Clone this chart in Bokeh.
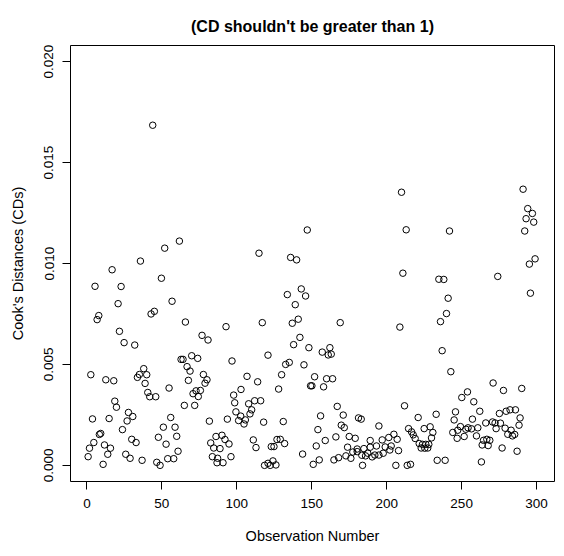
from bokeh.plotting import figure
from bokeh.models import Range1d, FixedTicker, NumeralTickFormatter
from bokeh.embed import file_html
from bokeh.resources import INLINE

# Observation numbers and Cook's distances (in units of 1e-3)
obs = [43.9, 61.7, 51.9, 35.7, 16.8, 49.7, 5.4, 22.8,
       20.8, 7.9, 6.8, 42.8, 45, 56.8, 65.7, 92.8, 21.7, 24.8, 31.9, 76.8, 80.8, 62.8, 64.1, 69.9, 73.9, 96.8,
       37.9, 39.9, 35, 33.7, 66.8, 68.8, 2.6, 12.6, 17.9, 38.8, 54.8, 67.7, 77.7, 80.1, 78.8, 40.6, 41.9, 45.9,
       72.8, 70.8, 75.7, 74.3, 65, 71.9, 97.9, 98.6, 99.4, 18.6, 19.7, 3.7, 14.8, 27.7, 30.6, 26.8, 55.9, 51,
       58.8, 59.9, 47.7, 52.8, 60.8, 53.9, 57.9, 23.7, 9.2, 8.3, 4.6, 1.7, 0.8, 11.7, 15.7, 13.9, 10.8, 29.9,
       32.8, 25.9, 28.8, 36.8, 46.6, 48.8, 81.7, 93.7, 86.1, 90.1, 92.1, 82.6, 94.8, 84.6, 88.8, 83.7, 87.2,
       96.1, 86.8, 90.8,
       147, 114.8, 135.9, 139.9, 143,
       133.7, 145.9, 139, 117, 137, 141, 169, 142.1, 137.9, 148.1, 162.1, 157, 161, 163, 120.8, 132.6, 135,
       144.8, 129.9, 106.8, 113.9, 151.9, 159.9, 163.9, 149.2, 150.1, 157.9, 127.9, 102.8, 111.9, 115.9, 107.9,
       109.9, 108.8, 102.6, 101.2, 105.7, 104.8, 117.9, 131, 167, 155.9, 171, 181.2, 183, 169.7, 171.7, 154.1,
       194.8, 111, 112.8, 126.8, 129, 131.9, 123, 124.8, 159, 166.1, 175, 179, 189, 197, 153, 143.9, 173.9,
       180.3, 184.8, 189, 193.2, 199, 172.8, 176.1, 177.4, 180.3, 183.4, 185.9, 187.4, 190.3, 192.1, 194.8,
       197.7, 164.8, 167.9, 155, 151, 183.9, 118.5, 120.8, 122.3, 124.1, 126.1,
       209.9, 291, 294.1, 297.2, 293, 298.1, 213, 241.9, 292.1, 299, 295.2, 210.8, 234.8, 238.1, 274.1,
       295.9, 241, 239.9, 235.9, 208.8, 237, 242.8, 271, 277.9, 290.1, 253.9, 250.1, 258.1, 211.9, 245.9, 262.1,
       275.2, 279.7, 282.3, 285.9, 289, 221, 233, 245, 257.2, 266.1, 270.6, 272.3, 275.9, 288.3, 225, 229,
       214.6, 216.6, 217.7, 219, 230.8, 229.9, 221.7, 223.9, 226.1, 228.1, 223, 225.4, 227.4, 244.1, 247,
       247.4, 249.2, 251.7, 252.8, 254.3, 256.6, 259.9, 260.8, 264.6, 266.8, 268.8, 263.7, 267.7, 273, 279,
       280.8, 283, 283.9, 285.4, 277, 287, 201.4, 204.8, 207, 203, 207.9, 202.1, 206.1, 213.7, 215.9, 233.7,
       239, 263.2]

cd_milli = [16.85, 11.11, 10.76, 10.12, 9.69, 9.27, 8.87, 8.86,
            8.01, 7.42, 7.22, 7.50, 7.63, 8.13, 7.10, 6.87, 6.64, 6.08, 5.96, 6.44, 6.21, 5.25, 5.25, 5.43, 5.30, 5.17,
            4.79, 4.49, 4.50, 4.36, 4.89, 4.67, 4.49, 4.24, 4.19, 4.06, 3.83, 4.21, 4.50, 4.24, 4.07, 3.61, 3.40, 3.40,
            3.69, 3.55, 3.71, 3.41, 2.97, 2.97, 3.48, 3.10, 2.65, 3.18, 2.88, 2.30, 2.32, 2.62, 2.42, 2.20, 2.37, 1.89,
            1.89, 1.44, 1.39, 1.05, 0.70, 0.33, 0.33, 1.77, 1.58, 1.53, 1.13, 0.85, 0.43, 1.01, 0.85, 0.55, 0.05, 1.29,
            1.13, 0.55, 0.35, 0.25, 0.15, 0.00, 2.19, 2.29, 1.43, 1.49, 1.28, 1.11, 1.06, 0.86, 0.83, 0.43, 0.35,
            0.43, 0.13, 0.13,
            11.66, 10.51, 10.30, 10.18, 8.74,
            8.46, 8.39, 7.96, 7.07, 7.04, 7.24, 7.07, 6.34, 5.98, 5.83, 5.83, 5.61, 5.47, 5.51, 5.46, 5.00, 5.10,
            4.98, 4.49, 4.41, 4.14, 4.39, 4.29, 4.29, 3.94, 3.94, 3.89, 3.78, 3.76, 3.20, 3.20, 3.05,
            2.75, 2.55, 2.44, 2.22, 2.25, 2.05, 2.14, 2.17, 2.92, 2.45, 2.49, 2.35, 2.29, 1.99, 1.87, 1.77,
            1.95, 1.26, 0.88, 1.28, 1.29, 1.08, 0.93, 0.93, 1.23, 1.41, 1.43, 1.34, 1.23, 1.26, 0.96, 0.56, 0.90,
            0.81, 0.83, 0.90, 0.96, 0.91, 0.47, 0.35, 0.66, 0.68, 0.50, 0.47, 0.60, 0.42, 0.51, 0.51,
            0.60, 0.27, 0.38, 0.27, 0.05, 0.00, 0.00, 0.10, 0.00, 0.22, 0.02,
            13.53, 13.68, 12.72, 12.48, 12.22, 12.05, 11.67, 11.61, 11.61, 10.23, 9.97, 9.52, 9.22, 9.21, 9.36,
            8.53, 8.28, 7.52, 7.12, 6.85, 5.68, 4.64, 4.08, 3.71, 3.81, 3.64, 3.36, 3.15, 2.95, 2.65, 2.68,
            2.57, 2.68, 2.75, 2.75, 2.35, 2.37, 2.53, 2.25, 2.29, 2.10, 2.15, 2.10, 2.09, 1.99, 1.82, 1.91,
            1.82, 1.66, 1.51, 1.33, 1.63, 1.36, 1.08, 1.04, 1.04, 1.04, 0.86, 0.85, 0.86, 1.63, 1.34,
            1.74, 1.92, 1.43, 1.79, 1.86, 1.81, 1.46, 1.86, 1.24, 1.29, 1.24, 1.01, 0.98, 1.82, 1.84,
            1.54, 1.74, 1.46, 1.53, 0.86, 0.70, 1.38, 1.54, 1.29, 0.96, 0.73, 0.76, 0.00, 0.00, 0.05, 0.25,
            0.25, 0.17]

cd = [v / 1000.0 for v in cd_milli]

x_ticks = [0, 50, 100, 150, 200, 250, 300]
y_ticks = [0.0, 0.005, 0.010, 0.015, 0.020]

FONT = "Liberation Sans"

p = figure(width=556, height=548, output_backend="svg", toolbar_location=None,
           x_range=Range1d(-10.96, 311.96), y_range=Range1d(-0.0008, 0.0208),
           min_border_left=70, min_border_right=2, min_border_top=45, min_border_bottom=67,
           background_fill_color="white", border_fill_color="white")

p.title.text = "(CD shouldn't be greater than 1)"
p.title.align = "center"
p.title.text_font = FONT
p.title.text_font_size = "16px"
p.title.text_font_style = "bold"
p.title.text_color = "black"
p.title.standoff = 22

p.scatter(obs, cd, marker="circle", size=6.5, fill_color=None, line_color="black", line_width=1)

p.grid.visible = False
p.outline_line_color = "black"
p.outline_line_width = 1
p.outline_line_alpha = 1.0

for ax in (p.xaxis[0], p.yaxis[0]):
    ax.axis_line_color = None
    ax.major_tick_line_color = "black"
    ax.major_tick_in = 0
    ax.major_tick_out = 8
    ax.minor_tick_line_color = None
    ax.major_label_text_font = FONT
    ax.major_label_text_font_size = "13.5px"
    ax.major_label_text_color = "black"
    ax.axis_label_text_font = FONT
    ax.axis_label_text_font_size = "14.5px"
    ax.axis_label_text_font_style = "normal"
    ax.axis_label_text_color = "black"

p.xaxis.ticker = FixedTicker(ticks=x_ticks)
p.yaxis.ticker = FixedTicker(ticks=y_ticks)
p.yaxis.formatter = NumeralTickFormatter(format="0.000")
p.yaxis.major_label_orientation = "vertical"
p.xaxis.axis_label = "Observation Number"
p.yaxis.axis_label = "Cook's Distances (CDs)"
p.xaxis.major_label_standoff = 9
p.xaxis.axis_label_standoff = 17
p.yaxis.major_label_standoff = 9
p.yaxis.axis_label_standoff = 16

open("out.html", "w").write(file_html(p, INLINE))
